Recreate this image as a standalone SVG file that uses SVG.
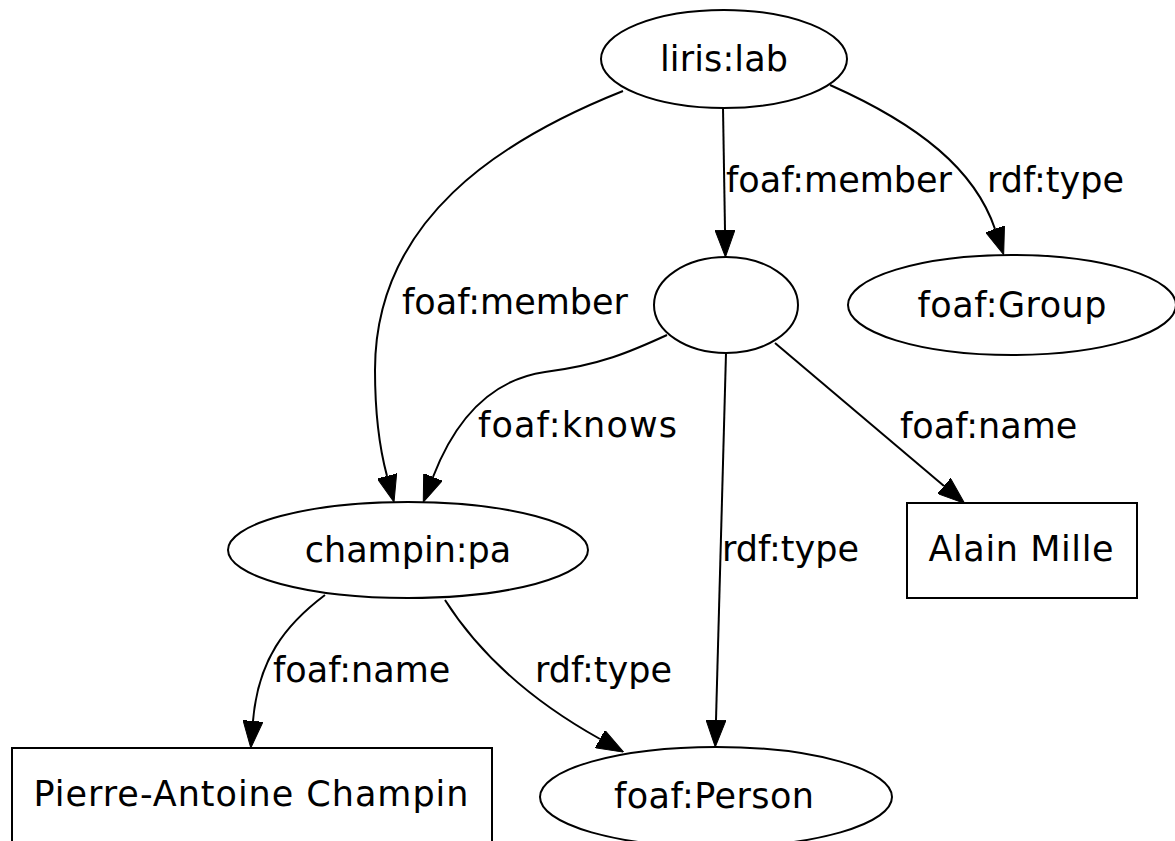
<svg xmlns="http://www.w3.org/2000/svg" width="1175" height="841" viewBox="0 0 1175 841">
  <style>
    .shape { fill: #ffffff; stroke: #000000; stroke-width: 2; }
    .edge { fill: none; stroke: #000000; stroke-width: 2; }
    text { font-family: "DejaVu Sans", "Liberation Sans", sans-serif; font-size: 35px; fill: #000000; }
    .node text { text-anchor: middle; }
  </style>
  <defs>
    <marker id="arrow" viewBox="0 0 27 20" refX="0" refY="10" markerWidth="27" markerHeight="20" markerUnits="userSpaceOnUse" orient="auto">
      <path d="M0,0 L27,10 L0,20 z" fill="#000000" stroke="#000000" stroke-width="1"/>
    </marker>
  </defs>
  <rect width="1175" height="841" fill="#ffffff"/>

  <!-- edges -->
  <g id="edges">
    <g id="e-lab-blank">
      <path class="edge" d="M723,108 L725,230" marker-end="url(#arrow)"/>
      <text x="726" y="192">foaf:member</text>
    </g>
    <g id="e-lab-group">
      <path class="edge" d="M830,85 C920,125 975,170 995,229" marker-end="url(#arrow)"/>
      <text x="987" y="192">rdf:type</text>
    </g>
    <g id="e-lab-pa">
      <path class="edge" d="M623,91 C500,140 375,220 375,370 C375,420 380,450 387,476" marker-end="url(#arrow)"/>
      <text x="402" y="314">foaf:member</text>
    </g>
    <g id="e-blank-pa">
      <path class="edge" d="M667,335 C630,352 600,365 545,372 C490,380 455,420 433,477" marker-end="url(#arrow)"/>
      <text x="478" y="437" textLength="199">foaf:knows</text>
    </g>
    <g id="e-blank-person">
      <path class="edge" d="M726,353 L716,720" marker-end="url(#arrow)"/>
      <text x="722" y="561">rdf:type</text>
    </g>
    <g id="e-blank-mille">
      <path class="edge" d="M775,343 L944,486" marker-end="url(#arrow)"/>
      <text x="900" y="438">foaf:name</text>
    </g>
    <g id="e-pa-name">
      <path class="edge" d="M325,595 C285,625 258,660 253,721" marker-end="url(#arrow)"/>
      <text x="273" y="682">foaf:name</text>
    </g>
    <g id="e-pa-person">
      <path class="edge" d="M445,600 C480,655 530,700 600,739" marker-end="url(#arrow)"/>
      <text x="535" y="682">rdf:type</text>
    </g>
  </g>

  <!-- nodes -->
  <g id="liris-lab" class="node">
    <ellipse class="shape" cx="724" cy="59" rx="123" ry="49"/>
    <text x="724" y="71" textLength="128">liris:lab</text>
  </g>
  <g id="blank" class="node">
    <ellipse class="shape" cx="726" cy="305" rx="72" ry="48"/>
  </g>
  <g id="foaf-group" class="node">
    <ellipse class="shape" cx="1012" cy="305" rx="164" ry="50"/>
    <text x="1012" y="317" textLength="189">foaf:Group</text>
  </g>
  <g id="champin-pa" class="node">
    <ellipse class="shape" cx="408" cy="550" rx="180" ry="48"/>
    <text x="408" y="562">champin:pa</text>
  </g>
  <g id="alain-mille" class="node">
    <rect class="shape" x="907" y="503" width="230" height="95"/>
    <text x="1021" y="561" textLength="185">Alain Mille</text>
  </g>
  <g id="pa-champin-name" class="node">
    <rect class="shape" x="12" y="748" width="480" height="96"/>
    <text x="251" y="806" textLength="435">Pierre-Antoine Champin</text>
  </g>
  <g id="foaf-person" class="node">
    <ellipse class="shape" cx="716" cy="797" rx="176" ry="50"/>
    <text x="714" y="808" textLength="200">foaf:Person</text>
  </g>
</svg>
